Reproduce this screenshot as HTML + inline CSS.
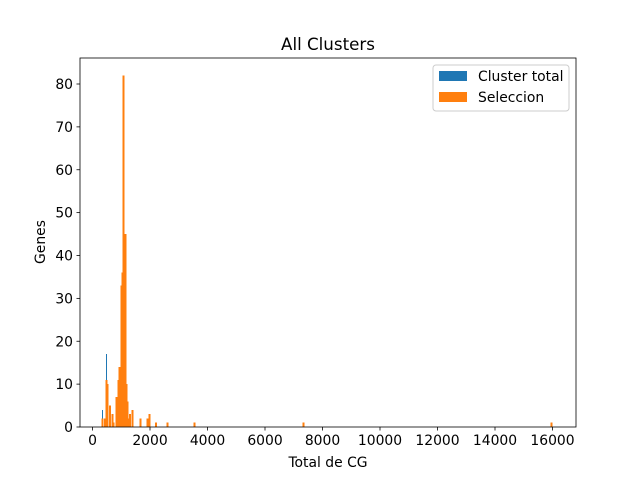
<!DOCTYPE html>
<html><head><meta charset="utf-8"><style>body{margin:0;background:#fff}svg{display:block;font-family:"DejaVu Sans","Liberation Sans",sans-serif}</style></head>
<body>
<svg id="chart" width="640" height="480" xmlns="http://www.w3.org/2000/svg">
<rect width="640" height="480" fill="#fff"/>
<g id="bars" shape-rendering="crispEdges"></g>
<g id="axes"></g>
<text x="328" y="50" font-size="16.7" text-anchor="middle">All Clusters</text>
<text x="328" y="467" font-size="13.9" text-anchor="middle">Total de CG</text>
<text transform="translate(45,242) rotate(-90)" font-size="13.9" text-anchor="middle">Genes</text>
<g>
<rect x="433" y="65" width="136" height="46" rx="3" fill="#fff" fill-opacity="0.8" stroke="#ccc"/>
<rect x="439" y="71" width="28" height="10" fill="#1f77b4"/>
<text x="478" y="81" font-size="13.9">Cluster total</text>
<rect x="439" y="92" width="28" height="10" fill="#ff7f0e"/>
<text x="478" y="102" font-size="13.9">Seleccion</text>
</g>
</svg>
<script>
const blueBins = [348, 487];
const blueCounts = [4, 17];
const orangeBins = [348,435,487,522,609,696,730,835,904,939,1009,1043,1078,1148,1183,1217,1252,1304,1391,1670,1913,1983,2209,2609,3548,7339,15965];
const orangeCounts = [2,2,11,10,5,3,1,7,11,14,33,36,82,45,10,6,2,3,4,2,2,3,1,1,1,1,1];
const xTicks = [0,2000,4000,6000,8000,10000,12000,14000,16000];
const yTicks = [0,10,20,30,40,50,60,70,80];
const binWidth = 56;
const L=80,R=576,T=58,B=427;
const xScale = v => 92.5 + v*0.02875;
const yScale = v => B - v*4.2875;
const NS="http://www.w3.org/2000/svg";
const bars=document.getElementById('bars');
function bar(v,c,col,name,w){
  const r=document.createElementNS(NS,'rect');
  const x0=xScale(v-w/2), x1=xScale(v+w/2);
  r.setAttribute('x',x0);r.setAttribute('width',Math.max(x1-x0,1));
  r.setAttribute('y',yScale(c));r.setAttribute('height',B-yScale(c));
  r.setAttribute('fill',col);
  
  
  bars.appendChild(r);
}
blueBins.forEach((v,i)=>bar(v,blueCounts[i],'#1f77b4','bar-cluster-total',30));
orangeBins.forEach((v,i)=>bar(v,orangeCounts[i],'#ff7f0e','bar-seleccion',binWidth));
const ax=document.getElementById('axes');
let h=`<rect x="${L}" y="${T}" width="${R-L}" height="${B-T}" fill="none" stroke="#000" stroke-width="0.8"/>`;
xTicks.forEach(t=>{const x=xScale(t);h+=`<line x1="${x}" x2="${x}" y1="${B}" y2="${B+3.5}" stroke="#000" stroke-width="0.8"/><text x="${x}" y="${B+18}" font-size="13.9" text-anchor="middle">${t}</text>`;});
yTicks.forEach(t=>{const y=yScale(t);h+=`<line x1="${L-3.5}" x2="${L}" y1="${y}" y2="${y}" stroke="#000" stroke-width="0.8"/><text x="${L-7}" y="${y+5}" font-size="13.9" text-anchor="end">${t}</text>`;});
ax.innerHTML=h;
</script>
</body></html>
